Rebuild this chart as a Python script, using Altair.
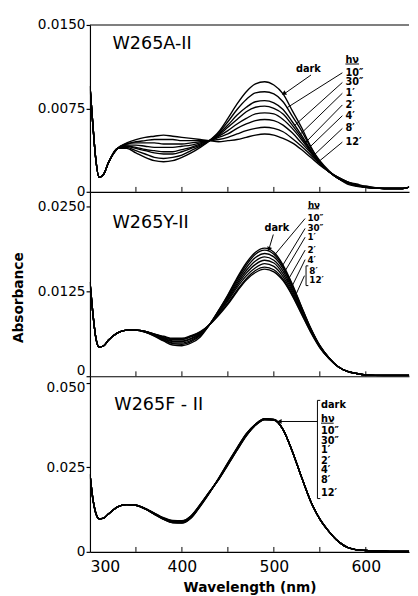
import altair as alt
import pandas as pd
import numpy as np

FONT = "DejaVu Sans"

WL = [300, 303, 306, 310, 315, 320, 330, 340, 350, 360, 370, 380, 390, 400, 410, 420,
      430, 440, 450, 460, 470, 480, 490, 500, 510, 520, 530, 540, 550, 560, 570, 580,
      590, 600, 620, 640, 650]
TIMES = ["dark", "10″", "30″", "1′", "2′", "4′", "8′", "12′"]

# ---------- W265A-II ----------
A_START = [.0095, .0062, .0032, .0013, .0016, .0026, .0039]
A_dark = A_START + [.0039, .0035, .0031, .0028, .0027, .0028, .0031, .0035, .0040, .0046, .0054, .0066, .0079, .0090, .0097, .0099, .0096, .0088, .0073, .0058, .0041, .0027, .0018, .0012, .0007, .0005, .0004, .0003, .0003, .0005]
A_10s = A_START + [.0040, .0037, .0034, .0031, .0030, .0031, .0033, .0037, .0041, .0046, .0053, .0063, .0074, .0083, .0089, .0090, .0088, .0081, .0068, .0055, .0040, .0028, .0019, .0012, .0008, .0006, .0004, .0003, .0003, .0005]
A_30s = A_START + [.0041, .0039, .0037, .0035, .0034, .0034, .0036, .0039, .0042, .0046, .0052, .0060, .0069, .0076, .0081, .0082, .0080, .0074, .0063, .0051, .0038, .0027, .0018, .0012, .0008, .0006, .0004, .0003, .0003, .0005]
A_1m = A_START + [.0041, .0040, .0038, .0037, .0036, .0036, .0038, .0040, .0043, .0046, .0051, .0058, .0065, .0072, .0076, .0077, .0075, .0070, .0060, .0049, .0037, .0026, .0018, .0012, .0008, .0006, .0004, .0003, .0003, .0005]
A_2m = A_START + [.0042, .0042, .0041, .0040, .0040, .0040, .0041, .0042, .0044, .0046, .0050, .0055, .0061, .0066, .0070, .0071, .0070, .0065, .0057, .0047, .0036, .0026, .0018, .0012, .0008, .0006, .0004, .0003, .0003, .0005]
A_4m = A_START + [.0043, .0044, .0044, .0044, .0043, .0043, .0043, .0044, .0045, .0046, .0049, .0052, .0057, .0061, .0064, .0065, .0064, .0060, .0053, .0044, .0035, .0026, .0018, .0013, .0009, .0006, .0004, .0003, .0003, .0005]
A_8m = A_START + [.0043, .0045, .0046, .0047, .0047, .0047, .0046, .0046, .0046, .0046, .0047, .0049, .0052, .0055, .0057, .0058, .0057, .0054, .0048, .0041, .0033, .0025, .0018, .0013, .0009, .0006, .0005, .0003, .0003, .0005]
A_12m = A_START + [.0044, .0047, .0049, .0050, .0051, .0050, .0049, .0048, .0047, .0046, .0045, .0046, .0047, .0049, .0051, .0052, .0051, .0048, .0044, .0038, .0031, .0024, .0018, .0013, .0009, .0007, .0005, .0003, .0003, .0005]

# ---------- W265Y-II ----------
B_START = [.0139, .0095, .0060, .0043, .0045, .0053, .0064]
B_dark = B_START + [.0068, .0068, .0065, .0059, .0052, .0046, .0045, .0049, .0058, .0076, .0097, .0120, .0145, .0167, .0183, .0189, .0183, .0164, .0136, .0103, .0071, .0045, .0027, .0014, .0007, .0004, .0002, .0001, .0001, .0001]
B_10s = B_START + [.0068, .0068, .0065, .0060, .0053, .0048, .0047, .0051, .0060, .0076, .0097, .0119, .0143, .0164, .0180, .0186, .0180, .0162, .0134, .0102, .0071, .0045, .0027, .0014, .0007, .0004, .0002, .0001, .0001, .0001]
B_30s = B_START + [.0068, .0068, .0065, .0060, .0054, .0049, .0049, .0053, .0061, .0076, .0096, .0117, .0140, .0160, .0175, .0181, .0176, .0159, .0132, .0101, .0070, .0045, .0027, .0014, .0007, .0004, .0002, .0001, .0001, .0001]
B_1m = B_START + [.0068, .0068, .0066, .0061, .0055, .0051, .0051, .0055, .0062, .0076, .0095, .0115, .0137, .0156, .0170, .0176, .0171, .0155, .0129, .0099, .0069, .0044, .0027, .0014, .0007, .0004, .0002, .0001, .0001, .0001]
B_2m = B_START + [.0068, .0068, .0066, .0061, .0056, .0052, .0052, .0056, .0063, .0076, .0094, .0113, .0134, .0152, .0165, .0171, .0167, .0151, .0126, .0097, .0068, .0044, .0027, .0014, .0007, .0004, .0002, .0001, .0001, .0001]
B_4m = B_START + [.0068, .0068, .0066, .0062, .0057, .0054, .0054, .0058, .0064, .0076, .0093, .0111, .0131, .0148, .0160, .0166, .0162, .0147, .0123, .0095, .0067, .0043, .0026, .0014, .0007, .0004, .0002, .0001, .0001, .0001]
B_8m = B_START + [.0068, .0068, .0066, .0062, .0058, .0055, .0055, .0059, .0065, .0076, .0091, .0108, .0127, .0144, .0156, .0161, .0157, .0143, .0120, .0093, .0066, .0043, .0026, .0014, .0007, .0004, .0002, .0001, .0001, .0001]
B_12m = B_START + [.0068, .0068, .0066, .0062, .0059, .0056, .0056, .0060, .0066, .0076, .0090, .0106, .0125, .0142, .0153, .0158, .0154, .0141, .0119, .0092, .0065, .0042, .0026, .0014, .0007, .0004, .0002, .0001, .0001, .0001]

# ---------- W265F-II ----------
C_START = [.0230, .0160, .0118, .0098, .0100, .0112, .0133]
C_dark = C_START + [.0140, .0138, .0127, .0111, .0096, .0086, .0085, .0100, .0135, .0175, .0218, .0264, .0308, .0350, .0378, .0394, .0392, .0362, .0298, .0222, .0150, .0097, .0060, .0031, .0013, .0006, .0004, .0002, .0001, .0001]
C_10s = C_START + [.0140, .0138, .0127, .0112, .0097, .0087, .0086, .0101, .0136, .0175, .0217, .0263, .0307, .0349, .0378, .0394, .0392, .0362, .0298, .0222, .0150, .0097, .0060, .0031, .0013, .0006, .0004, .0002, .0001, .0001]
C_30s = C_START + [.0140, .0138, .0127, .0112, .0097, .0088, .0087, .0102, .0137, .0176, .0217, .0262, .0306, .0348, .0377, .0393, .0392, .0362, .0298, .0222, .0150, .0097, .0060, .0031, .0013, .0006, .0004, .0002, .0001, .0001]
C_1m = C_START + [.0140, .0138, .0128, .0113, .0098, .0089, .0088, .0103, .0138, .0176, .0216, .0261, .0305, .0347, .0377, .0393, .0391, .0362, .0298, .0222, .0150, .0097, .0060, .0031, .0013, .0006, .0004, .0002, .0001, .0001]
C_2m = C_START + [.0140, .0138, .0128, .0113, .0099, .0090, .0089, .0104, .0139, .0177, .0216, .0260, .0304, .0346, .0376, .0393, .0391, .0362, .0298, .0222, .0150, .0097, .0060, .0031, .0013, .0006, .0004, .0002, .0001, .0001]
C_4m = C_START + [.0140, .0138, .0128, .0114, .0099, .0091, .0090, .0105, .0139, .0177, .0215, .0259, .0303, .0345, .0376, .0392, .0391, .0362, .0298, .0222, .0150, .0097, .0060, .0031, .0013, .0006, .0004, .0002, .0001, .0001]
C_8m = C_START + [.0140, .0138, .0128, .0114, .0100, .0092, .0091, .0106, .0140, .0178, .0215, .0258, .0302, .0344, .0375, .0392, .0390, .0362, .0298, .0222, .0150, .0097, .0060, .0031, .0013, .0006, .0004, .0002, .0001, .0001]
C_12m = C_START + [.0140, .0138, .0129, .0115, .0101, .0093, .0092, .0107, .0141, .0178, .0214, .0257, .0301, .0343, .0375, .0391, .0390, .0362, .0298, .0222, .0150, .0097, .0060, .0031, .0013, .0006, .0004, .0002, .0001, .0001]

CURVES_A = [A_dark, A_10s, A_30s, A_1m, A_2m, A_4m, A_8m, A_12m]
CURVES_B = [B_dark, B_10s, B_30s, B_1m, B_2m, B_4m, B_8m, B_12m]
CURVES_C = [C_dark, C_10s, C_30s, C_1m, C_2m, C_4m, C_8m, C_12m]

X_LABELS = [300, 400, 500, 600]
X_TICKS = [350, 400, 450, 500, 550, 600]
X_DOMAIN = [300, 647]
W = 327

# annotation texts (label, wavelength, absorbance)
A_LABELS = ["hν", "10″", "30″", "1′", "2′", "4′", "8′", "12′"]
A_LAB_WL = 577.8
A_LAB_Y = [.01184, .01070, .00983, .00886, .00781, .00684, .00570, .00447]
A_LEAD_START = 574.5
A_LEAD_END = [514.2, 522.7, 528.0, 533.3, 536.5, 541.8, 547.1]

B_LABELS = ["hν", "10″", "30″", "1′", "2′", "4′", "8′", "12′"]
B_LAB_WL = [537.0, 536.5, 536.5, 536.5, 536.5, 536.5, 538.6, 538.6]
B_LAB_Y = [.0253, .02326, .0218, .0205, .0186, .0172, .01555, .01424]
B_LEAD_START = 534.0
B_LEAD_END = [500.7, 508.6, 511.0, 514.5, 518.0, 522.0]

C_LABELS = ["dark", "hν", "10″", "30″", "1′", "2′", "4′", "8′", "12′"]
C_LAB_WL = 551.3
C_LAB_Y = [.0434, .0393, .0358, .0328, .0300, .0270, .0242, .0212, .0174]


def curves_df(curves):
    rows = []
    for name, vals in zip(TIMES, curves):
        for w, a in zip(WL, vals):
            rows.append({"wl": w, "A": a, "t": name})
    return pd.DataFrame(rows)


class Panel:
    def __init__(self, ymax, height, yvals, yfmt, ytitle, show_x, label_shift=None):
        if show_x:
            xaxis = alt.Axis(values=X_LABELS, ticks=False, grid=False, labelFontSize=16,
                             labelFont=FONT, labelPadding=7, title="Wavelength (nm)",
                             titleFont=FONT, titleFontSize=14, titleFontWeight="bold",
                             titlePadding=7, domain=True)
        else:
            xaxis = alt.Axis(labels=False, ticks=False, grid=False, title=None, domain=True)
        if ytitle:
            ykw = {"title": ytitle, "titleY": 108}
        else:
            ykw = {"title": None}
        if label_shift is not None:
            val, off = label_shift
            ykw["labelOffset"] = {"condition": {"test": f"datum.value == {val}", "value": off},
                                  "value": 0}
        yaxis = alt.Axis(values=yvals,
                         labelExpr=f"datum.value == 0 ? '0' : format(datum.value, '{yfmt}')",
                         tickSize=4, grid=False, labelFontSize=14, labelFont=FONT, labelPadding=1,
                         titleFont=FONT, titleFontSize=14,
                         titleFontWeight="bold", titlePadding=12, domain=True, **ykw)
        self.X = alt.X("wl:Q", scale=alt.Scale(domain=X_DOMAIN, nice=False, zero=False), axis=xaxis)
        self.Y = alt.Y("A:Q", scale=alt.Scale(domain=[0, ymax], nice=False), axis=yaxis)
        self.height = height
        self.layers = []

    def lines(self, curves):
        self.layers.append(alt.Chart(curves_df(curves)).mark_line(
            color="black", strokeWidth=1.4, interpolate="monotone", clip=True).encode(
            x=self.X, y=self.Y, detail="t:N"))
        self.layers.append(alt.Chart(pd.DataFrame({"wl": X_TICKS})).mark_rule(
            color="black", strokeWidth=1).encode(
            x=self.X, y=alt.value(self.height), y2=alt.value(self.height - 5)))

    def text(self, df, size=10, weight="bold", align="left"):
        self.layers.append(alt.Chart(df).mark_text(
            align=align, baseline="middle", font=FONT, fontSize=size, fontWeight=weight,
            color="black").encode(x=self.X, y=self.Y, text="label:N"))

    def segs(self, df, width=1):
        self.layers.append(alt.Chart(df).mark_rule(color="black", strokeWidth=width).encode(
            x=self.X, y=self.Y, x2="wl2:Q", y2="A2:Q"))

    def head(self, df, shape, angle, size=28):
        self.layers.append(alt.Chart(df).mark_point(
            shape=shape, filled=True, color="black", size=size, opacity=1,
            angle=angle).encode(x=self.X, y=self.Y))

    def hrule(self, value):
        self.layers.append(alt.Chart(pd.DataFrame({"A": [value]})).mark_rule(
            color="black", strokeWidth=1.2).encode(y=self.Y))

    def chart(self):
        return alt.layer(*self.layers).properties(width=W, height=self.height)


H1, H2, H3 = 171, 189, 180

# ---------------- panel 1 ----------------
P1 = Panel(0.015, H1, [0, 0.0075, 0.015], ".4f", None, False)
P1.lines(CURVES_A)
P1.hrule(0.015)
P1.text(pd.DataFrame({"wl": [324.5], "A": [0.01324], "label": ["W265A-II"]}), size=18, weight="normal")
P1.text(pd.DataFrame({"wl": [A_LAB_WL] * 8, "A": A_LAB_Y, "label": A_LABELS}))
P1.text(pd.DataFrame({"wl": [537.5], "A": [0.01105], "label": ["dark"]}), size=10, align="center")
lead_a = pd.DataFrame({
    "wl": [A_LEAD_START] * 7, "A": A_LAB_Y[1:],
    "wl2": A_LEAD_END,
    "A2": [float(np.interp(l, WL, c)) for l, c in zip(A_LEAD_END, CURVES_A[1:])],
})
dark_a_end = float(np.interp(510.3, WL, A_dark))
lead_a = pd.concat([lead_a, pd.DataFrame({"wl": [540.4], "A": [0.0105], "wl2": [510.3],
                                          "A2": [dark_a_end]})])
P1.segs(lead_a)
P1.segs(pd.DataFrame({"wl": [577.8], "A": [0.01149], "wl2": [592.7], "A2": [0.01149]}))
P1.head(pd.DataFrame({"wl": [511.5], "A": [dark_a_end + 0.0001]}), "triangle", 239)
panel1 = P1.chart()

# ---------------- panel 2 ----------------
P2 = Panel(0.0272, H2, [0, 0.0125, 0.025], ".4f", "Absorbance", False, label_shift=(0, -6))
P2.lines(CURVES_B)
P2.text(pd.DataFrame({"wl": [324.5], "A": [0.02257], "label": ["W265Y-II"]}), size=18, weight="normal")
P2.text(pd.DataFrame({"wl": B_LAB_WL, "A": B_LAB_Y, "label": B_LABELS}), size=9)
P2.text(pd.DataFrame({"wl": [503.3], "A": [0.0218], "label": ["dark"]}), size=10, align="center")
b_starts = B_LAB_Y[1:6] + [0.01483]
lead_b = pd.DataFrame({
    "wl": [B_LEAD_START] * 5 + [533.3], "A": b_starts,
    "wl2": B_LEAD_END,
    "A2": [float(np.interp(l, WL, c)) for l, c in zip(B_LEAD_END, CURVES_B[1:7])],
})
dark_b_end = float(np.interp(494.4, WL, B_dark))
lead_b = pd.concat([lead_b, pd.DataFrame({"wl": [499.4], "A": [0.0209], "wl2": [494.4],
                                          "A2": [dark_b_end]})])
P2.segs(lead_b)
P2.segs(pd.DataFrame({"wl": [535.0, 535.0, 535.0], "A": [0.01628, 0.01628, 0.01337],
                      "wl2": [535.0, 537.5, 537.5], "A2": [0.01337, 0.01628, 0.01337]}))
P2.segs(pd.DataFrame({"wl": [537.0], "A": [0.0247], "wl2": [549.0], "A2": [0.0247]}))
P2.head(pd.DataFrame({"wl": [494.9], "A": [dark_b_end + 0.0002]}), "triangle", 200)
panel2 = P2.chart()

# ---------------- panel 3 ----------------
P3 = Panel(0.052, H3, [0, 0.025, 0.05], ".3f", None, True, label_shift=(0.05, 5))
P3.lines(CURVES_C)
P3.text(pd.DataFrame({"wl": [326.5], "A": [0.0434], "label": ["W265F - II"]}), size=18, weight="normal")
P3.text(pd.DataFrame({"wl": [C_LAB_WL] * 9, "A": C_LAB_Y, "label": C_LABELS}))
P3.segs(pd.DataFrame({"wl": [547.4, 547.4, 547.4, 547.4, 551.3],
                      "A": [0.04485, 0.04485, 0.01578, 0.0386, 0.0381],
                      "wl2": [547.4, 550.5, 550.5, 505.5, 565.0],
                      "A2": [0.01578, 0.04485, 0.01578, 0.0386, 0.0381]}))
P3.head(pd.DataFrame({"wl": [506.0], "A": [0.0386]}), "triangle-left", 0)
panel3 = P3.chart()

chart = alt.vconcat(panel1, panel2, panel3, spacing=0, bounds="flush").properties(
    padding={"left": 4, "top": 3, "right": 0, "bottom": 0}
).configure_view(stroke=None).configure_axis(
    domainColor="black", tickColor="black", labelColor="black", titleColor="black",
    domainWidth=1.2, tickWidth=1.2
)

chart.save("out.html", embed_options={"renderer": "svg", "actions": False})
